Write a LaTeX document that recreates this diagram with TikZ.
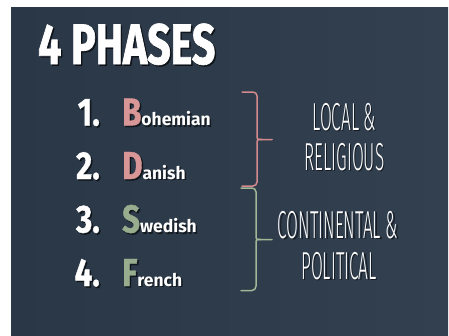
\documentclass[tikz,border=0pt]{standalone}
\usepackage{fontspec}
\newfontfamily\condf[FakeStretch=0.72,FakeBold=1.2]{Fira Sans}
\newfontfamily\numf[FakeStretch=0.8,FakeBold=1]{Fira Sans}
\newfontfamily\plainf{Fira Sans}
\newfontfamily\handf[FakeStretch=0.44]{Fira Sans Light}
\definecolor{panel}{RGB}{42,55,70}
\definecolor{panelR}{RGB}{50,64,80}
\definecolor{pinkc}{RGB}{216,150,150}
\definecolor{greenc}{RGB}{152,172,142}
\definecolor{pinkb}{RGB}{212,138,140}
\definecolor{greenb}{RGB}{162,182,152}
\tikzset{
  txt/.style={inner sep=0pt, text=white},
  shad/.style={inner sep=0pt, text=black, opacity=0.55},
  brace/.style={line width=1.5pt, line cap=round, line join=round},
}
\newcommand\titlesize{\fontsize{57}{57}\selectfont}
\newcommand\numsize{\fontsize{39}{39}\selectfont}
\newcommand\lowsize{\fontsize{17.5}{17.5}\selectfont}
\newcommand\handsize{\fontsize{39}{39}\selectfont}
\newcommand\phword[3]{{\numf\bfseries\numsize\color{#1}#2}{\plainf\bfseries\lowsize #3}}
\begin{document}
\begin{tikzpicture}[x=1pt,y=-1pt]
\useasboundingbox (0,0) rectangle (449,335);
\fill[white] (0,0) rectangle (449,335);
\shade[left color=panel,right color=panelR] (11,7) rectangle (448,335);
% title
\node[shad,anchor=base west] (titles) at (39.5,65.5) {\condf\bfseries\titlesize 4 PHASES};
\node[txt,anchor=base west] (title) at (38,64) {\condf\bfseries\titlesize 4 PHASES};
% numbers
\foreach \n/\y in {1/125.5,2/179,3/232.5,4/286}{
  \node[shad,anchor=base east] (nums\n) at (101.5,\y+1.5) {\numf\bfseries\numsize\n.};
  \node[txt,anchor=base east] (num\n) at (100,\y) {\numf\bfseries\numsize\n.};
}
% words
\node[shad,anchor=base west] (w1s) at (123.5,127) {\phword{black}{B}{ohemian}};
\node[txt,anchor=base west] (w1) at (122,125.5) {\phword{pinkc}{B}{ohemian}};
\node[shad,anchor=base west] (w2s) at (123.5,180.5) {\phword{black}{D}{anish}};
\node[txt,anchor=base west] (w2) at (122,179) {\phword{pinkc}{D}{anish}};
\node[shad,anchor=base west] (w3s) at (123.5,234) {\phword{black}{S}{wedish}};
\node[txt,anchor=base west] (w3) at (122,232.5) {\phword{greenc}{S}{wedish}};
\node[shad,anchor=base west] (w4s) at (123.5,287.5) {\phword{black}{F}{rench}};
\node[txt,anchor=base west] (w4) at (122,286) {\phword{greenc}{F}{rench}};
% braces
\draw[brace,pinkb] (242,92) -- (253,92) to[out=0,in=90] (257,96) -- (257,135)
  .. controls (257,139.5) .. (262,139.5) -- (272,139.5);
\draw[brace,pinkb] (262,139.5) .. controls (257,139.5) .. (257,144) -- (257,182)
  to[out=-90,in=0] (253,186) -- (242,186);
\draw[brace,greenb] (241,188) -- (252,188) to[out=0,in=90] (256,192) -- (256,235)
  .. controls (256,239.5) .. (261,239.5) -- (272,239.5);
\draw[brace,greenb] (261,239.5) .. controls (256,239.5) .. (256,244) -- (256,286)
  to[out=-90,in=0] (252,290.5) -- (241,290.5);
% handwritten labels
\node[shad,anchor=base] (l1s) at (345.5,131.5) {\handf\handsize LOCAL \&};
\node[txt,anchor=base] (l1) at (344.5,130) {\handf\handsize LOCAL \&};
\node[shad,anchor=base] (l2s) at (345.5,171.5) {\handf\handsize RELIGIOUS};
\node[txt,anchor=base] (l2) at (344.5,170) {\handf\handsize RELIGIOUS};
\node[shad,anchor=base] (l3s) at (339.5,239.5) {\handf\handsize CONTINENTAL \&};
\node[txt,anchor=base] (l3) at (338,238) {\handf\handsize CONTINENTAL \&};
\node[shad,anchor=base] (l4s) at (340.5,280.5) {\handf\handsize POLITICAL};
\node[txt,anchor=base] (l4) at (339,279) {\handf\handsize POLITICAL};
\end{tikzpicture}
\end{document}
